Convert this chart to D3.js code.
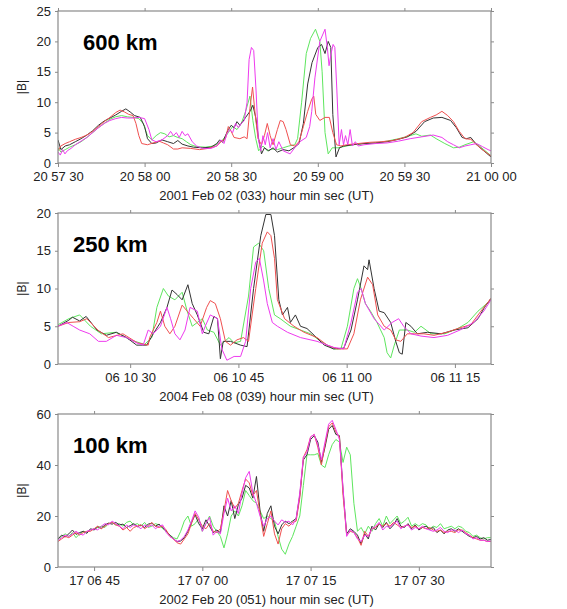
<!DOCTYPE html>
<html><head><meta charset="utf-8">
<script src="https://cdn.jsdelivr.net/npm/d3@7"></script>
<style>
body{margin:0;background:#fff;}
svg{display:block;font-family:"Liberation Sans",Arial,sans-serif;}
</style></head>
<body><svg id="c" width="567" height="609"></svg>
<script>
// ---------- DATA ----------
// Panel 1: 600 km, 2001 Feb 02 (033), start 20 57 30, [seconds from start, |B|]
const p1Label = "600 km";
const p1Title = "2001 Feb 02 (033) hour min sec (UT)";
const p1Start = 20*3600+57*60+30;
const p1Span = 150;
const p1XTicks = [0,30,60,90,120,150];
const p1YTicks = [0,5,10,15,20,25];
const p1YMax = 25;
const p1Black = [[0,3.8],[1,2.2],[2.5,2.8],[4,3.0],[6,3.5],[8,4.0],[10,4.6],[12,5.3],[14,6.2],[16,6.9],[18,7.4],[20,7.9],[22,8.5],[23.5,8.9],[25,8.4],[26.5,7.8],[28.5,7.5],[30,6.0],[31,4.0],[32.5,3.2],[34,3.3],[36,3.8],[38,3.5],[40,3.2],[41.5,3.7],[43,3.1],[45,2.8],[47,2.6],[50,2.5],[53,2.6],[55,3.2],[56,3.8],[57,3.4],[58,4.5],[59,5.5],[60,6.2],[61,5.8],[62,6.8],[63,6.2],[64,6.8],[65,7.5],[66.5,8.5],[67.5,9.5],[68.5,7.5],[69.5,4.0],[70.5,1.5],[71.5,2.5],[73,2.0],[74.5,2.5],[76,1.8],[78,2.2],[80,2.0],[82,2.6],[83.5,3.2],[85,6.5],[86.5,13],[88,16.5],[90,19],[91.3,19.5],[92.5,18],[93.6,20],[94.5,19],[95.2,8],[96.3,1.0],[97.5,2.5],[99,2.8],[102,3.0],[106,3.2],[110,3.3],[114,3.5],[118,3.9],[121,4.3],[124,5.2],[127,6.8],[130,7.4],[133,7.5],[136,7.0],[138,5.8],[140,4.2],[141.5,4.0],[143,4.2],[145,3.0],[147,2.2],[148.5,1.6],[150,1.0]];
const p1Green = [[0,2.5],[1,1.8],[2.5,2.2],[4,2.6],[6,3.0],[8,3.5],[10,4.2],[12,5.0],[14,5.8],[16,6.5],[18,7.2],[20,7.6],[22,7.8],[24,7.6],[26,7.5],[28,7.3],[29.5,6.5],[31,4.5],[32.5,3.8],[34,4.5],[35.5,5.0],[37,4.8],[38.5,4.3],[40,4.5],[41.5,4.2],[43,4.0],[44.5,3.5],[46,3.0],[48,2.7],[51,2.6],[54,2.8],[56,3.4],[57.5,4.0],[59,5.0],[60.5,6.0],[62,5.5],[63.5,6.5],[65,8.5],[66.5,11],[67.5,7],[68.5,4.0],[69.5,2.0],[71,2.8],[72.5,2.0],[74,2.3],[76,2.2],[78,2.5],[80,2.8],[82,3.0],[83,4.0],[84.4,10],[86,18],[87.5,20.5],[89.2,22],[90.7,20],[91.5,15],[92.5,5],[93.6,1.5],[95,2.5],[97,2.5],[99,2.7],[102,3.0],[106,3.2],[110,3.3],[114,3.6],[118,4.0],[122,4.5],[124,4.8],[126,4.4],[129,4.6],[131,4.0],[134,3.2],[137,2.5],[139,2.6],[141,3.0],[144,3.5],[146,2.8],[148,2.0],[150,1.2]];
const p1Red = [[0,2.0],[1,2.8],[2.5,3.2],[4,3.5],[6,3.9],[8,4.2],[10,4.6],[12,5.2],[14,6.0],[16,6.8],[18,7.5],[20,8.3],[21.5,8.7],[23,8.4],[24.5,8.0],[26,7.8],[27,6.5],[28,4.5],[29,3.2],[31,3.0],[33,3.3],[35,3.6],[36.5,3.3],[38,3.0],[40,2.3],[41.5,2.3],[43,2.5],[46,2.4],[49,2.2],[52,2.4],[55,2.8],[56.5,3.5],[58,4.0],[59,6.0],[60,5.2],[61,4.2],[63,4.0],[64.5,4.3],[65.5,4.0],[66.5,9.0],[67.4,12.5],[68.3,8.0],[69.3,4.0],[70.5,3.0],[71.5,4.5],[72.5,6.5],[73.5,4.5],[74.5,3.0],[76,5.5],[77,7.0],[78,6.8],[79,5.5],[80.5,3.0],[82,2.8],[83.5,3.5],[85,6.0],[86.5,8.5],[87.9,10.5],[88.6,11],[89.3,8.0],[90.7,7.0],[92.5,7.5],[94,7.5],[95.2,5.0],[96.5,3.0],[98,2.8],[100,3.0],[104,3.2],[108,3.4],[112,3.5],[116,3.7],[120,4.2],[123,5.0],[126,6.8],[129,7.5],[131,7.9],[133,8.5],[135,7.8],[137,6.8],[139,5.2],[141,4.0],[143,3.9],[145,3.0],[147,2.2],[149,1.5],[150,1.2]];
const p1Magenta = [[0,1.8],[0.8,1.3],[1.6,2.2],[2.4,1.5],[3.2,2.0],[4.5,2.4],[6,3.0],[8,3.6],[10,4.2],[12,5.0],[14,5.8],[16,6.5],[18,7.0],[20,7.3],[22,7.5],[24,7.4],[26,7.4],[28,7.5],[30,7.3],[31.5,5.5],[32.5,3.8],[34,3.5],[36,3.8],[38,4.5],[39,5.2],[40,4.5],[41,5.0],[42,4.2],[43,5.2],[44,4.5],[45,4.8],[46.5,3.5],[48,2.8],[50,2.4],[53,2.4],[55,2.8],[56.5,3.8],[57.5,3.2],[58.5,4.8],[59.5,5.5],[60.5,5.0],[61.5,6.5],[62.5,5.8],[63.5,6.5],[64.5,7.0],[65.5,10],[66.2,17],[67,19],[67.8,18.5],[68.6,12],[69.4,4],[70.2,2.0],[71,4.5],[71.8,3.0],[72.6,5.0],[73.5,2.5],[74.5,4.0],[75.5,2.2],[76.5,3.5],[78,2.0],[80.4,1.5],[82,2.5],[83.8,3.5],[86,4.2],[87.2,6.0],[87.9,8.5],[89,14],[90.7,20],[92.5,22],[93.3,19],[93.9,16],[94.6,18],[95.3,19.5],[95.9,19],[96.6,12],[97.4,3.0],[98.2,5.5],[98.9,3.0],[99.6,4.5],[100.4,3.0],[101.2,5.5],[102,2.8],[103,3.5],[104,2.8],[106,3.0],[110,3.2],[114,3.3],[118,3.6],[122,4.0],[126,4.3],[130,4.6],[133,4.2],[135,3.5],[137,3.0],[139,2.5],[141,2.8],[143,3.0],[145,3.2],[147,2.7],[149,2.2],[150,2.0]];

// Panel 2: 250 km, 2004 Feb 08 (039), start 06 10 20
const p2Label = "250 km";
const p2Title = "2004 Feb 08 (039) hour min sec (UT)";
const p2Start = 6*3600+10*60+20;
const p2Span = 60;
const p2XTicks = [10,25,40,55];
const p2YTicks = [0,5,10,15,20];
const p2YMax = 20;
const p2Black = [[0,5.0],[1.5,5.8],[2,6.2],[3,5.7],[3.9,6.3],[5.4,4.5],[6.7,3.8],[8.1,4.2],[9.5,3.5],[10.9,2.5],[12.3,2.5],[13.2,4.0],[14.2,5.5],[15.1,7.5],[15.8,9.8],[16.5,9.2],[17.2,8.5],[18,10.5],[18.6,8.0],[19.3,6.5],[20.2,4.2],[20.9,4.0],[21.6,6.3],[22.1,6.0],[22.5,0.7],[22.9,3.0],[23.9,3.0],[25.3,2.5],[26.2,2.3],[27.1,10],[28.1,17],[28.8,19.8],[29.5,19.8],[30,17],[30.6,8.5],[31.1,6.5],[31.8,7.5],[32.2,5.5],[32.9,6.5],[33.6,5.0],[34.5,4.7],[35.5,3.8],[36.9,2.5],[38.2,2.0],[39.6,2.1],[40.6,4.5],[41.5,8.5],[42.4,13],[42.9,12.5],[43.1,13.8],[43.8,10],[44.5,7],[45.2,6.8],[46.1,5.5],[46.8,3.0],[47.3,1.5],[47.7,1.3],[48.2,5.5],[48.9,5.0],[49.8,4.0],[51.2,4.2],[53.1,4.0],[54.9,4.5],[56.8,4.8],[58.2,6.0],[59.1,7.5],[60,8.7]];
const p2Green = [[0,5.2],[1.5,6.0],[3,6.5],[4.5,5.0],[6,4.0],[8,4.2],[10,3.2],[12,2.6],[13,3.5],[13.7,7.5],[14.6,10],[15.3,9],[16.2,8.5],[17.2,9.5],[17.9,7],[18.6,5],[19.3,5.5],[20,6],[20.7,4.5],[21.6,4.2],[22.5,2.5],[23.7,3.5],[24.4,2.8],[25.3,3.0],[26.4,9],[27.1,15.5],[27.8,16],[28.5,15],[29.2,10],[30,6.5],[30.8,6],[32.2,5.0],[33.6,4.5],[35,4.0],[36.4,3.0],[38.2,2.0],[39.2,2.0],[40.1,5],[41,10],[41.5,11.3],[42,10],[42.6,8],[43.3,7],[44.2,5.5],[45.2,3.5],[45.6,1.5],[46.1,0.8],[46.6,2.5],[47.3,4.5],[48.4,4.5],[49.4,4.2],[50.3,5.0],[51.7,4.0],[53.6,4.0],[55.4,4.7],[56.8,5.5],[58.2,7.0],[60,8.5]];
const p2Red = [[0,5.0],[1.5,5.5],[3,5.6],[4,6.0],[5.5,4.5],[7,3.5],[9,4.0],[11,2.8],[12.5,2.5],[12.7,3.5],[13.7,5.5],[14.2,7],[14.8,5.0],[15.5,4.0],[16.2,5],[17.2,7.8],[17.9,7],[18.8,6.0],[19.7,5.0],[20.6,7.5],[21.1,8.4],[21.8,8],[22.5,6],[23.2,3],[23.9,2.5],[24.8,3.2],[25.7,3.5],[26.4,3.0],[27.4,10],[28.3,16],[29,17.5],[29.5,17],[30,14],[30.4,8.5],[31.4,6.0],[32.7,5.0],[34.1,4.2],[35.9,3.5],[37.3,2.5],[38.7,2.0],[40.1,2.0],[41,4],[41.9,8.5],[42.9,11.5],[43.6,10.5],[44.3,6.5],[45.2,5.0],[46.1,4.5],[46.8,3.2],[47.5,3.0],[48.4,4.0],[49.4,4.0],[50.7,4.0],[52.1,3.8],[53.9,4.2],[55.7,4.8],[57.2,5.2],[58.6,7],[60,8.7]];
const p2Magenta = [[0,5.0],[1.2,5.5],[2.1,5.0],[3,4.5],[4.4,4.0],[5.6,3.0],[6.7,3.0],[8.1,3.8],[9.5,3.5],[10.9,2.8],[11.8,2.5],[12.5,4.5],[13.2,4.0],[14.2,5.0],[15.1,7.5],[15.6,6],[16.2,4.0],[16.9,3.2],[17.6,4.5],[18.3,7.5],[19.3,7],[20,4.0],[20.4,5],[21.1,6.5],[22.1,6.0],[22.7,2.0],[23.4,0.5],[24.4,1.0],[25.3,1.0],[26,3],[26.7,10],[27.4,13.5],[27.9,14],[28.5,11],[29,8],[29.7,5.5],[30.4,5.0],[31.8,4.2],[33.6,3.5],[35.9,3.0],[38.2,2.2],[39.6,2.0],[40.6,5.5],[41.5,9.5],[42,10],[42.6,8],[43.8,6],[45.2,4.5],[46.3,5.5],[47.2,6.0],[47.9,5.0],[48.9,4.0],[50.3,3.7],[52.1,3.5],[54,3.8],[55.7,4.5],[57.6,5.5],[59,7],[60,8.5]];

// Panel 3: 100 km, 2002 Feb 20 (051), start 17 06 40, sampled every 0.5 s
const p3Label = "100 km";
const p3Title = "2002 Feb 20 (051) hour min sec (UT)";
const p3Start = 17*3600+6*60+40;
const p3Span = 60;
const p3Step = 0.5;
const p3XTicks = [5,20,35,50];
const p3YTicks = [0,20,40,60];
const p3YMax = 60;
const p3Black = [11,12.5,11.8,13,14.5,12.8,13.5,14,13.2,15, 14.5,15.8,15.2,16.5,17.2,16.8,17.5,16.5,16.8,15.5, 16.2,17,15.8,16.5,15.5,16.8,17.2,16,16.8,15.5, 14,12.5,11,10,10.2,11.5,14,17.5,20.5,17, 15,18.5,16,13.5,14.5,13.5,24,20,26,19, 24.5,27,32,31,27,35.5,22,14,21,24, 16,13,16.5,18,17,18,19,28,42,44, 50,51.5,49,41,47,54,55.5,52,51.5,30, 13,15,14,12.5,9,13,11,16,14.5,17, 15.5,17.5,15,16.5,19,16,15.5,17,15,16.5, 14.5,15.5,16,14.8,15.5,13.5,14.5,13,14.5,15, 14,15,14,13,12,11.5,12,11,11.5,10.5, 10.8];
const p3Green = [11,12,13,12,13.5,11.5,13,14,13.5,14.5, 15,15.5,16,15.5,17,17.5,16.5,17,16,17.5, 18,16.5,17,16,17.5,15.5,16,17,16.5,15, 14,12.5,11.5,11,14,18,20,16,17,19, 14,17,20,16,14,12,7.5,13,20,22, 20,24,30,28,26,25,22,19,20,19, 18,12,7,5,9,12,16,20,32,44, 44,44,44.5,40,39,44,48,50,49,41, 47,44,25,14,15.5,13,16,14,17,19, 16,20,17,18.5,20,17,18,19.5,16,17, 16,17,16.5,15,16,15.5,17,15,15.5,16, 15,16,15.5,14,13.5,12,12.5,11.5,11,11.5, 11.5];
const p3Red = [10,11,12,11.5,12.5,13.5,12.5,13.5,14,14, 15,16,15,16,17,17.5,16.5,16,14.5,15.5, 14,15.5,16,16.5,15,16,17.5,16,15.5,16, 14.5,12,11,9.5,9,11,13,17,21,18.5, 16,15,17,14,13.5,15,22,30,26,23, 25,30,34.5,33,28,30,21,12,17,22, 13,9,15,17,16,17.5,18,27,43,46, 51,52,47,40,48,55,56.5,53,51,28, 12.5,14,13.5,11.5,8.5,14,12,15,15.5,17, 16,17,16,17.5,16.5,15.5,16,16.5,15.5,16, 15,15.5,15,15.5,14.5,14,14.5,13.5,14,14, 13.5,14.5,14.5,13.5,12.5,11.5,11,10.5,10.5,10, 10];
const p3Magenta = [10.5,11.5,12.5,12,13,14,13,12.5,14,14.5, 15,14.5,16,17,16.5,18,17,16,15,16.5, 15.5,16.5,16,15,16.5,15.8,16.5,15,16,16.5, 13.5,12,11,10,10.5,12,14.5,18,22,19.5, 14,17,19.5,12.5,14,13,21,27,22,24, 21,29,35,37.5,29,25,20,16,19,20, 18,16.5,18.5,17.5,18,16.5,19,29,43,45, 51,52,48,42,49,56,57.5,54,50,31, 12,14.5,13.5,11,10,12.5,12,15,16,17.5, 14.5,16,15.5,17,18,15,16,16.5,14.5,15.5, 15,16,15,14.5,14,14.5,15.5,14,13.5,14.5, 14.5,13.5,14.5,13,12.5,11,11.5,10.5,10.5,10, 10.2];

const seriesColors = {green:"#5ee65e", black:"#333333", red:"#f05050", magenta:"#ee3aee"};
const seriesOrder = ["green","black","red","magenta"];

// ---------- BUILD ----------
const toPairs = arr => arr.map((v,i)=>[i*p3Step, v]);
const panels = [
  {label:p1Label, title:p1Title, start:p1Start, span:p1Span, xt:p1XTicks, yt:p1YTicks, ymax:p1YMax, top:11, bottom:163,
   s:{green:p1Green, black:p1Black, red:p1Red, magenta:p1Magenta}},
  {label:p2Label, title:p2Title, start:p2Start, span:p2Span, xt:p2XTicks, yt:p2YTicks, ymax:p2YMax, top:213, bottom:364,
   s:{green:p2Green, black:p2Black, red:p2Red, magenta:p2Magenta}},
  {label:p3Label, title:p3Title, start:p3Start, span:p3Span, xt:p3XTicks, yt:p3YTicks, ymax:p3YMax, top:414, bottom:567,
   s:{green:toPairs(p3Green), black:toPairs(p3Black), red:toPairs(p3Red), magenta:toPairs(p3Magenta)}}
];
const left = 58, right = 491;
const svg = d3.select("#c");
const pad = n => String(n).padStart(2,"0");
const fmtTime = sec => { sec = Math.round(sec); const h=Math.floor(sec/3600)%24, m=Math.floor(sec/60)%60, s=sec%60; return pad(h)+" "+pad(m)+" "+pad(s); };

panels.forEach((p,pi)=>{
  const x = d3.scaleLinear().domain([0,p.span]).range([left,right]);
  const y = d3.scaleLinear().domain([0,p.ymax]).range([p.bottom,p.top]);
  const g = svg.append("g");
  const cid = "clip"+pi;
  svg.append("clipPath").attr("id",cid).append("rect").attr("x",left).attr("y",p.top).attr("width",right-left).attr("height",p.bottom-p.top);

  const line = d3.line().x(d=>x(d[0])).y(d=>y(d[1]));
  const lg = g.append("g").attr("clip-path",`url(#${cid})`);
  seriesOrder.forEach(k=>{
    lg.append("path").datum(p.s[k]).attr("d",line).attr("fill","none")
      .attr("stroke",seriesColors[k]).attr("stroke-width",1).attr("stroke-linejoin","round");
  });

  const axColor = "#8a8a8a";
  const styleAxis = sel => { sel.selectAll(".domain").remove(); sel.selectAll(".tick line").attr("stroke",axColor);
    sel.selectAll("text").attr("fill","#222").style("font-size","13px").style("font-family","'Liberation Sans',Arial,sans-serif"); };

  const xb = g.append("g").attr("transform",`translate(0,${p.bottom})`)
    .call(d3.axisBottom(x).tickValues(p.xt).tickSize(4).tickPadding(5).tickFormat(d=>fmtTime(p.start+d)));
  styleAxis(xb);
  const xtp = g.append("g").attr("transform",`translate(0,${p.top})`)
    .call(d3.axisTop(x).tickValues(p.xt).tickSize(3).tickFormat(""));
  styleAxis(xtp);
  const yl = g.append("g").attr("transform",`translate(${left},0)`)
    .call(d3.axisLeft(y).tickValues(p.yt).tickSize(3).tickPadding(4));
  styleAxis(yl);
  const yr = g.append("g").attr("transform",`translate(${right},0)`)
    .call(d3.axisRight(y).tickValues(p.yt).tickSize(3).tickFormat(""));
  styleAxis(yr);

  g.append("rect").attr("x",left).attr("y",p.top).attr("width",right-left).attr("height",p.bottom-p.top)
    .attr("fill","none").attr("stroke",axColor).attr("stroke-width",1.2);

  g.append("text").attr("x",(left+right)/2-8).attr("y",p.bottom+37).attr("text-anchor","middle")
    .attr("fill","#222").style("font-size","13px").text(p.title);
  g.append("text").attr("transform",`translate(26,${(p.top+p.bottom)/2}) rotate(-90)`).attr("text-anchor","middle")
    .attr("fill","#222").style("font-size","12px").text("|B|");
  g.append("text").attr("x", pi===0?83:73).attr("y",p.top+39).attr("fill","#000")
    .style("font-size","22px").style("font-weight","bold").text(p.label);
});
</script></body></html>
